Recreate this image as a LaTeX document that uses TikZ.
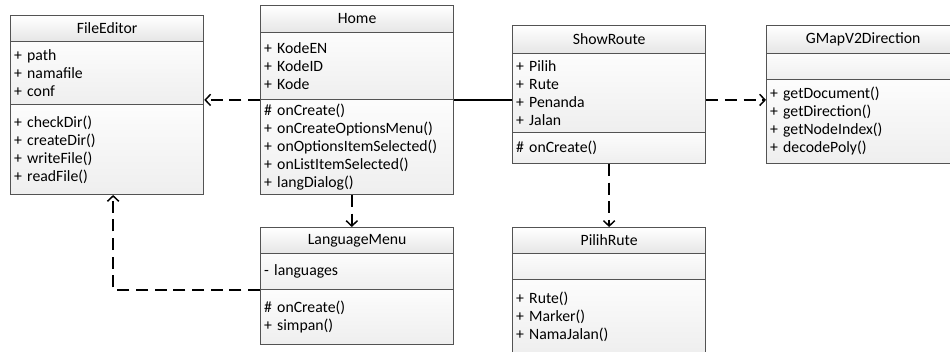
\documentclass[tikz,border=0pt]{standalone}
\usepackage{fontspec}
\setmainfont{Carlito}
\usetikzlibrary{arrows.meta}
\tikzset{
  hdr/.style={draw=gray!65!black, line width=0.7pt, top color=white, bottom color=gray!20,
    anchor=north west, minimum width=145pt, inner sep=0pt, font=\fontsize{11.8}{13.5}\selectfont},
  cmp/.style={draw=gray!65!black, line width=0.7pt, top color=gray!2, bottom color=gray!13,
    anchor=north west, text width=139.5pt, inner xsep=2.75pt, inner ysep=0pt, align=left,
    font=\fontsize{11.8}{13.5}\selectfont},
  dep/.style={line width=1.1pt, dash pattern=on 9pt off 5pt, -{Straight Barb[length=4pt,width=8.5pt]}},
  assoc/.style={line width=1.1pt}
}
\begin{document}
\begin{tikzpicture}[x=0.75pt,y=-0.75pt]
\useasboundingbox (0,0) rectangle (950,351);
\clip (0,0) rectangle (950,351);

 \node[hdr, minimum height=19.5pt] (feH) at (10,15) {FileEditor};
 \node[cmp, minimum height=47.25pt] (feA) at (10,41) {+ path\\+ namafile\\+ conf};
 \node[cmp, minimum height=67.5pt] (feM) at (10,104) {+ checkDir()\\+ createDir()\\+ writeFile()\\+ readFile()};

 \node[hdr, minimum height=20.25pt] (homeH) at (260,5) {Home};
 \node[cmp, minimum height=50.25pt] (homeA) at (260,32) {+ KodeEN\\+ KodeID\\+ Kode};
 \node[cmp, minimum height=71.25pt] (homeM) at (260,99) {\# onCreate()\\+ onCreateOptionsMenu()\\+ onOptionsItemSelected()\\+ onListItemSelected()\\+ langDialog()};

 \node[hdr, minimum height=21pt] (srH) at (512,25) {ShowRoute};
 \node[cmp, minimum height=59.25pt] (srA) at (512,53) {+ Pilih\\+ Rute\\+ Penanda\\+ Jalan};
 \node[cmp, minimum height=23.25pt] (srM) at (512,132) {\# onCreate()};

 \node[hdr, minimum height=21pt] (gmH) at (766,25) {GMapV2Direction};
 \node[cmp, minimum height=19.5pt] (gmA) at (766,53) {};
 \node[cmp, minimum height=63pt] (gmM) at (766,79) {+ getDocument()\\+ getDirection()\\+ getNodeIndex()\\+ decodePoly()};

 \node[hdr, minimum height=19.5pt] (lmH) at (260,227) {LanguageMenu};
 \node[cmp, minimum height=27pt] (lmA) at (260,253) {- languages};
 \node[cmp, minimum height=41.25pt] (lmM) at (260,289) {\# onCreate()\\+ simpan()};

 \node[hdr, minimum height=19.5pt] (prH) at (512,227) {PilihRute};
 \node[cmp, minimum height=19.5pt] (prA) at (512,253) {};
 \node[cmp, minimum height=55.5pt] (prM) at (512,279) {+ Rute()\\+ Marker()\\+ NamaJalan()};


\draw[dep] (homeA.south west) -- (homeA.south west -| feA.east);
\draw[assoc] (homeA.south east) -- (homeA.south east -| srA.west);
\draw[dep] (srA.east |- homeA.south) -- (gmM.west |- homeA.south);
\draw[dep] ([xshift=-4pt]homeM.south) -- ([xshift=-4pt]lmH.north);
\draw[dep] (srM.south) -- (prH.north);
\draw[dep] (lmA.south west) -| ([xshift=4.5pt]feM.south);

\end{tikzpicture}
\end{document}
